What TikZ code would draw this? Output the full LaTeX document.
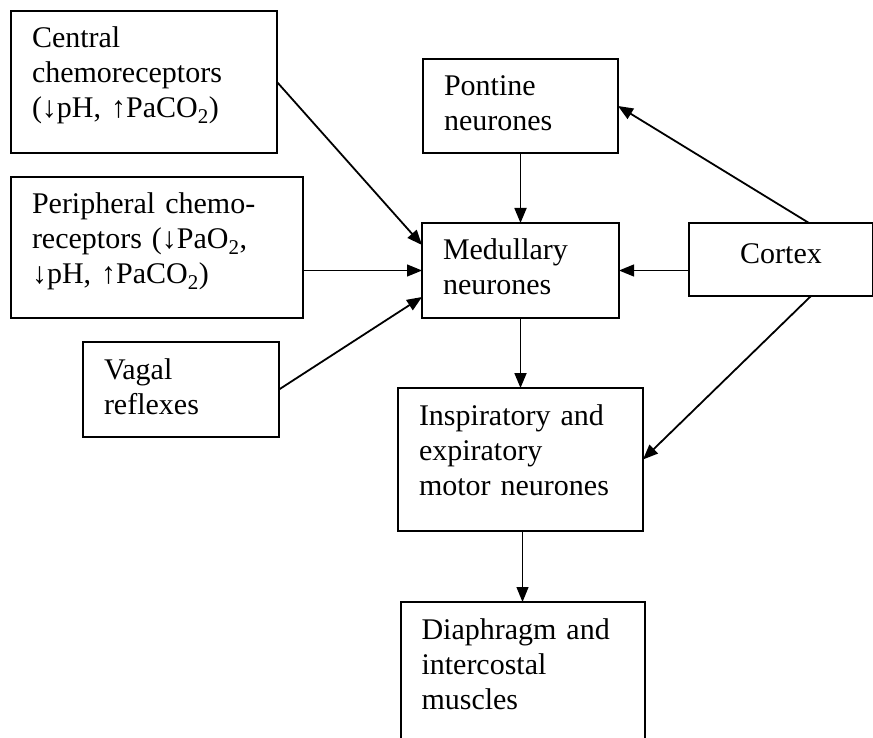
\documentclass[tikz,border=0pt]{standalone}
\usepackage{fontspec}
\setmainfont{Liberation Serif}
\usetikzlibrary{arrows.meta,positioning}

\tikzset{
  blk/.style 2 args={draw, line width=2pt, outer sep=0pt, inner xsep=21pt, inner ysep=0pt,
    text width=#1, text height=37pt, text depth=#2, align=left,
    font=\fontsize{30}{35}\selectfont},
  lnk/.style={->, line width=1.8pt},
  thinlnk/.style={->, line width=1.2pt}
}

\begin{document}
\begin{tikzpicture}[x=1pt,y=-1pt,>={Triangle[length=15pt,width=12pt]},node distance=70pt]
\useasboundingbox (0,0) rectangle (873,738);

% inputs on the left
\node[blk={224pt}{105pt}, anchor=north west] (central) at (11,11)
  {Central\\chemoreceptors\\(↓pH, ↑PaCO\textsubscript{2})};
\node[blk={250pt}{104pt}] (periph) [below=24pt of central.south west, anchor=north west]
  {Peripheral chemo-\\receptors (↓PaO\textsubscript{2},\\↓pH, ↑PaCO\textsubscript{2})};
\node[blk={154pt}{58pt}] (vagal) [below=24pt of periph.south west, anchor=north west, xshift=72pt]
  {Vagal\\reflexes};

% centre column
\node[blk={153pt}{57pt}, anchor=north west] (pontine) at (423,59) {Pontine\\neurones};
\node[blk={155pt}{58pt}] (medulla) [below=of pontine] {Medullary\\neurones};
\node[blk={203pt}{106pt}] (motor) [below=of medulla] {Inspiratory and\\expiratory\\motor neurones};
\node[blk={202pt}{123pt}] (muscle) [below=71pt of motor, xshift=2pt] {Diaphragm and\\intercostal\\muscles};

\node[blk={142pt}{33pt}, align=center, text height=40pt] (cortex)
  [right=of medulla.north east, anchor=north west] {Cortex};

\path[lnk] (central.east) edge ([yshift=-22pt]medulla.north west)
           (vagal.east) edge ([yshift=21pt]medulla.south west)
           (pontine) edge (medulla)
           (medulla) edge (motor)
           ([xshift=28pt]cortex.north) edge (pontine.east)
           ([xshift=30pt]cortex.south) edge (motor.east);
\path[thinlnk] (periph.east |- medulla.west) edge (medulla.west)
               (cortex.west |- medulla.east) edge (medulla.east)
               (motor.south -| muscle.north) edge (muscle.north);
\end{tikzpicture}
\end{document}
